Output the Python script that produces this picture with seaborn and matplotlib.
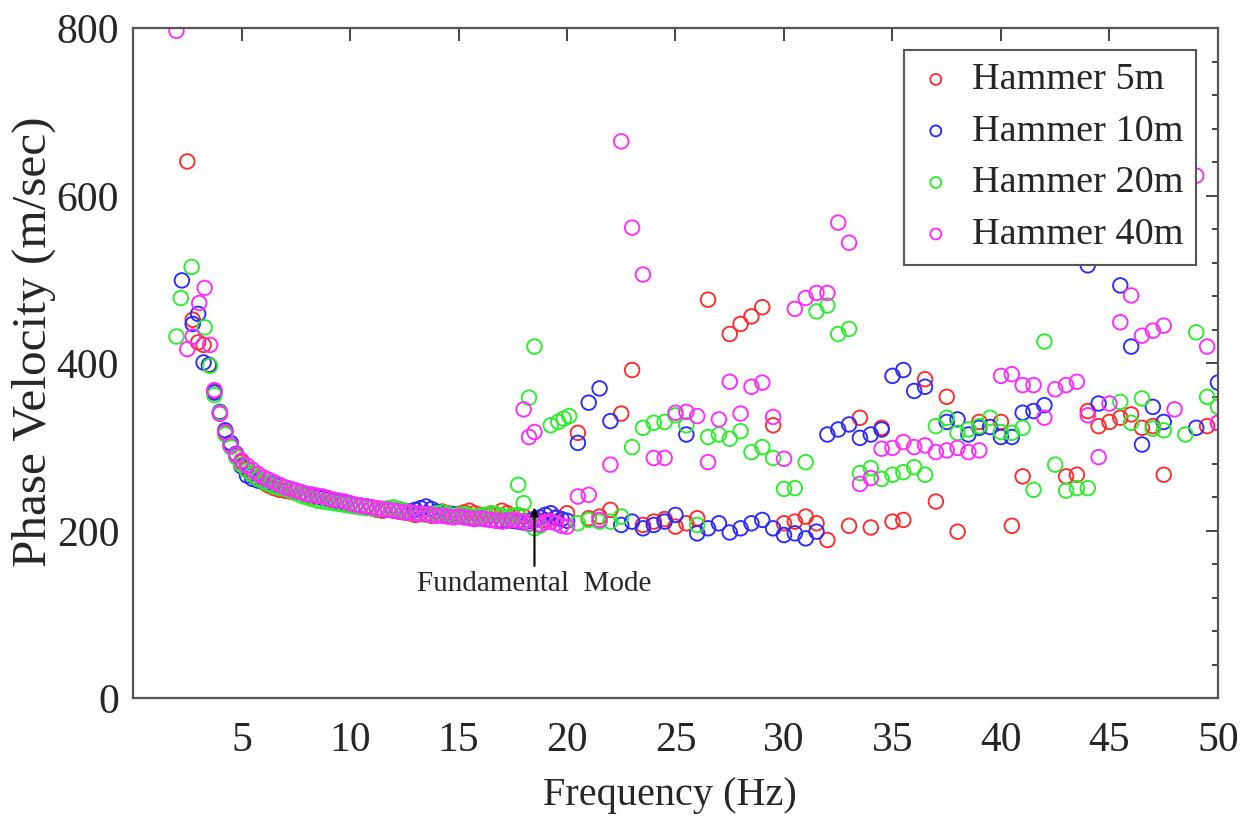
import numpy as np
import matplotlib
matplotlib.use("Agg")
import matplotlib.pyplot as plt
import seaborn as sns
from matplotlib.ticker import MultipleLocator

# --- data ----------------------------------------------------------------
# dense fundamental-mode band, shared frequency grid (Hz)
freq_dense = np.arange(3.75, 17.8, 0.25)

red_dense = [367, 340, 317, 302, 290, 282, 274, 268, 263, 258,
             254, 251, 249, 248, 247, 246, 245, 243, 241, 240,
             240, 238, 236, 235, 233, 231, 230, 229, 229, 227,
             225, 224, 226, 224, 223, 222, 221, 219, 220, 221,
             218, 222, 223, 221, 219, 220, 222, 224, 221, 219,
             218, 220, 219, 224, 221, 217, 218]
blue_dense = [365, 342, 320, 305, 292, 277, 266, 262, 260, 259,
              257, 255, 252, 251, 250, 248, 246, 244, 243, 241,
              239, 238, 237, 235, 233, 232, 231, 230, 229, 228,
              227, 226, 225, 225, 226, 224, 223, 225, 227, 229,
              226, 223, 221, 219, 220, 218, 217, 216, 216, 215,
              214, 213, 212, 212, 213, 212, 211]
green_dense = [362, 341, 315, 300, 288, 279, 272, 267, 262, 259,
               256, 253, 251, 250, 248, 245, 242, 240, 238, 236,
               235, 234, 233, 232, 231, 230, 229, 228, 227, 227,
               226, 226, 227, 228, 226, 224, 222, 221, 220, 219,
               220, 221, 222, 220, 218, 219, 220, 218, 217, 218,
               219, 221, 220, 218, 216, 218, 219]
magenta_dense = [368, 340, 318, 302, 291, 284, 278, 273, 268, 264,
                 261, 258, 255, 252, 250, 248, 246, 244, 243, 242,
                 241, 239, 237, 236, 235, 233, 231, 230, 229, 228,
                 227, 226, 225, 224, 223, 222, 222, 221, 220, 220,
                 219, 218, 218, 217, 216, 217, 216, 215, 214, 215,
                 214, 213, 212, 211, 212, 213, 212]

# band continuation past 17.75 Hz
red_f_ext = [18.0, 18.5, 19.0, 19.5, 20.0]
red_v_ext = [217, 214, 213, 215, 221]
blue_f_ext = [18.0, 18.25, 18.5, 18.75, 19.0, 19.25, 19.5, 19.75, 20.0]
blue_v_ext = [210, 212, 214, 216, 219, 221, 216, 214, 212]
green_f_ext = [18.0, 18.25, 18.5, 18.75]
green_v_ext = [212, 208, 203, 206]
magenta_f_ext = [18.0, 18.25, 18.5, 18.75, 19.0, 19.25, 19.5, 19.75, 20.0]
magenta_v_ext = [211, 209, 212, 208, 210, 211, 209, 206, 205]

# low-frequency and scattered points
red_f_other = [2.5, 2.75, 3.0, 3.25, 3.5,
               20.5, 21.0, 21.5, 22.0, 22.5, 23.0, 23.5, 24.0, 24.5, 25.0,
               25.5, 26.0, 26.5, 27.5, 28.0, 28.5, 29.0, 29.5, 30.0, 30.5,
               31.0, 31.5, 32.0, 33.0, 33.5, 34.0, 34.5, 35.0, 35.5, 36.5,
               37.0, 37.5, 38.0, 39.0, 40.0, 40.5, 41.0, 43.0, 43.5, 44.0,
               44.5, 45.0, 45.5, 46.0, 46.5, 47.0, 47.5, 49.5, 50.0]
red_v_other = [641, 452, 425, 422, 398,
               317, 215, 217, 225, 340, 392, 207, 211, 214, 205,
               209, 215, 476, 435, 447, 456, 467, 326, 209, 211,
               217, 209, 189, 206, 335, 204, 323, 211, 213, 381,
               235, 360, 199, 330, 330, 206, 265, 265, 267, 343,
               325, 330, 335, 339, 323, 325, 267, 325, 329]

blue_f_other = [2.25, 2.75, 3.0, 3.25, 3.5,
                20.5, 21.0, 21.5, 22.0, 22.5, 23.0, 23.5, 24.0, 24.5, 25.0,
                25.5, 26.0, 26.5, 27.0, 27.5, 28.0, 28.5, 29.0, 29.5, 30.0,
                30.5, 31.0, 31.5, 32.0, 32.5, 33.0, 33.5, 34.0, 34.5, 35.0,
                35.5, 36.0, 36.5, 37.5, 38.0, 38.5, 39.0, 39.5, 40.0, 40.5,
                41.0, 41.5, 42.0, 44.0, 44.5, 45.5, 46.0, 46.5, 47.0, 47.5,
                49.0, 50.0]
blue_v_other = [499, 447, 459, 401, 398,
                305, 353, 370, 331, 207, 211, 203, 207, 211, 219,
                315, 197, 203, 209, 198, 203, 209, 213, 203, 195,
                197, 191, 199, 315, 321, 327, 311, 315, 321, 385,
                392, 367, 372, 330, 333, 315, 323, 324, 312, 312,
                341, 343, 350, 517, 352, 493, 420, 303, 348, 330,
                323, 377]

green_f_other = [2.0, 2.2, 2.7, 3.3, 3.55,
                 17.75, 18.0, 18.25, 18.5, 19.25, 19.6, 19.85, 20.1,
                 20.5, 21.0, 21.5, 22.0, 22.5, 23.0, 23.5, 24.0, 24.5, 25.0,
                 25.5, 26.0, 26.5, 27.0, 27.5, 28.0, 28.5, 29.0, 29.5, 30.0,
                 30.5, 31.0, 31.5, 32.0, 32.5, 33.0, 33.5, 34.0, 34.5, 35.0,
                 35.5, 36.0, 36.5, 37.0, 37.5, 38.0, 38.5, 39.0, 39.5, 40.0,
                 40.5, 41.0, 41.5, 42.0, 42.5, 43.0, 43.5, 44.0, 45.5, 46.0,
                 46.5, 47.0, 47.5, 48.5, 49.0, 49.5, 50.0]
green_v_other = [432, 478, 515, 443, 397,
                 255, 233, 359, 420, 326, 330, 334, 337,
                 209, 213, 211, 211, 217, 300, 323, 329, 330, 338,
                 326, 207, 312, 315, 310, 319, 294, 300, 287, 250,
                 251, 282, 462, 469, 435, 441, 269, 275, 262, 267,
                 270, 276, 267, 325, 335, 317, 321, 325, 335, 318,
                 317, 323, 249, 426, 279, 248, 251, 251, 354, 329,
                 358, 322, 320, 315, 437, 360, 348]

magenta_f_other = [2.0, 2.5, 2.75, 3.05, 3.3, 3.55,
                   18.0, 18.25, 18.5,
                   20.5, 21.0, 21.5, 22.0, 22.5, 23.0, 23.5, 24.0, 24.5, 25.0,
                   25.5, 26.0, 26.5, 27.0, 27.5, 28.0, 28.5, 29.0, 29.5, 30.0,
                   30.5, 31.0, 31.5, 32.0, 32.5, 33.0, 33.5, 34.0, 34.5, 35.0,
                   35.5, 36.0, 36.5, 37.0, 37.5, 38.0, 38.5, 39.0, 40.0, 40.5,
                   41.0, 41.5, 42.0, 42.5, 43.0, 43.5, 44.0, 44.5, 45.0, 45.5,
                   46.0, 46.5, 47.0, 47.5, 48.0, 49.0, 49.5, 50.0]
magenta_v_other = [797, 417, 432, 472, 490, 422,
                   345, 312, 318,
                   241, 243, 213, 279, 665, 562, 506, 287, 287, 341,
                   342, 337, 282, 333, 378, 340, 372, 377, 336, 286,
                   465, 478, 484, 484, 568, 544, 256, 263, 298, 299,
                   306, 300, 302, 294, 296, 299, 294, 296, 385, 387,
                   374, 374, 335, 369, 374, 378, 338, 288, 352, 449,
                   481, 433, 439, 445, 345, 624, 420, 329]

labels = ["Hammer 5m", "Hammer 10m", "Hammer 20m", "Hammer 40m"]
colors = ["#ff2a2a", "#2a2aff", "#2aee2a", "#ff2aff"]

series = [
    (list(freq_dense) + red_f_ext + red_f_other, red_dense + red_v_ext + red_v_other),
    (list(freq_dense) + blue_f_ext + blue_f_other, blue_dense + blue_v_ext + blue_v_other),
    (list(freq_dense) + green_f_ext + green_f_other, green_dense + green_v_ext + green_v_other),
    (list(freq_dense) + magenta_f_ext + magenta_f_other, magenta_dense + magenta_v_ext + magenta_v_other),
]

# --- style ----------------------------------------------------------------
sns.set_style("white")
plt.rcParams["font.family"] = ["Liberation Serif", "DejaVu Serif"]

fig = plt.figure(figsize=(12.47, 8.18), dpi=100)
ax = fig.add_axes([0.1067, 0.1463, 0.8700, 0.8191])

for (f, v), lab, c in zip(series, labels, colors):
    sns.scatterplot(x=f, y=v, ax=ax, marker="o", s=110, color=c,
                    facecolor="none", edgecolor=c, linewidth=1.35, label=lab)

ax.set_xlim(0, 50)
ax.set_ylim(0, 800)
ax.set_xticks([5, 10, 15, 20, 25, 30, 35, 40, 45, 50])
ax.set_yticks([0, 200, 400, 600, 800])
ax.yaxis.set_minor_locator(MultipleLocator(40))

ax.tick_params(axis="both", which="both", direction="in", top=True, right=True,
               color="#444444", width=1.4)
ax.tick_params(axis="both", which="major", length=9, labelsize=30)
ax.tick_params(axis="y", which="minor", length=4.5)
ax.tick_params(axis="x", which="major", pad=17)
ax.tick_params(axis="y", which="major", pad=10)

for sp in ax.spines.values():
    sp.set_color("#555555")
    sp.set_linewidth(1.6)

ax.set_xlabel("Frequency (Hz)", fontsize=29)
ax.set_ylabel("Phase Velocity (m/sec)", fontsize=35.5)
ax.xaxis.set_label_coords(0.495, -0.118)
ax.yaxis.set_label_coords(-0.071, 0.532)

ax.annotate("Fundamental  Mode", xy=(18.5, 228), xytext=(18.5, 137),
            ha="center", va="center", fontsize=21,
            arrowprops=dict(arrowstyle="-|>", color="black", lw=1.5,
                            mutation_scale=12, shrinkA=1, shrinkB=0))

leg = ax.legend(loc="upper right", fontsize=27.5, frameon=True, fancybox=False,
                edgecolor="#555555", framealpha=1, markerscale=0.75,
                handletextpad=0.45, labelspacing=0.44, borderpad=0.33,
                borderaxespad=0.57, handlelength=1.0)
leg.get_frame().set_linewidth(1.5)

fig.savefig("out.png", dpi=100)
